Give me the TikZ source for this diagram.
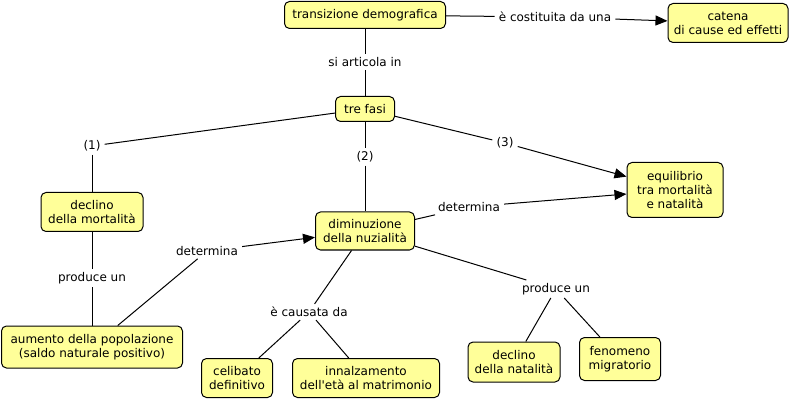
\documentclass[tikz,border=0pt]{standalone}
\usepackage{fontspec}
\setmainfont{DejaVu Sans}
\usetikzlibrary{arrows.meta}
\definecolor{cyel}{HTML}{FFFF99}
\begin{document}
\begin{tikzpicture}[x=1pt,y=-1pt,
  concept/.style={draw=black, line width=1pt, fill=cyel, rounded corners=5pt, align=center,
    inner sep=0pt, font=\fontsize{12}{14}\selectfont},
  lbl/.style={fill=white, inner xsep=4pt, inner ysep=3pt, font=\fontsize{12}{14}\selectfont},
  link/.style={line width=1pt},
  arr/.style={line width=1pt, -{Triangle[length=12pt,width=10pt]}}
]
\useasboundingbox[fill=white] (0,0) rectangle (796,401);

\node[concept, minimum width=161pt, minimum height=27pt] (td) at (365,15) {transizione demografica};
\node[concept, minimum width=120pt, minimum height=39pt] (cat) at (728,23) {catena\\di cause ed effetti};
\node[concept, minimum width=59pt, minimum height=25pt] (tf) at (365,109) {tre fasi};
\node[concept, minimum width=102pt, minimum height=39pt] (dm) at (92,212) {declino\\della mortalità};
\node[concept, minimum width=99pt, minimum height=38pt] (dn) at (365,231) {diminuzione\\della nuzialità};
\node[concept, minimum width=96pt, minimum height=55pt] (eq) at (675,190) {equilibrio\\tra mortalità\\e natalità};
\node[concept, minimum width=181pt, minimum height=42pt] (ap) at (92,347) {aumento della popolazione\\(saldo naturale positivo)};
\node[concept, minimum width=71pt, minimum height=39pt] (cd) at (237,378) {celibato\\definitivo};
\node[concept, minimum width=147pt, minimum height=39pt] (in) at (366,378) {innalzamento\\dell\textquotesingle età al matrimonio};
\node[concept, minimum width=92pt, minimum height=40pt] (dnat) at (514,362) {declino\\della natalità};
\node[concept, minimum width=81pt, minimum height=43pt] (fm) at (620,359) {fenomeno\\migratorio};

\node[lbl] (l1) at (555,17) {è costituita da una};
\node[lbl] (l2) at (365,62) {si articola in};
\node[lbl] (l3) at (92,146) {(1)};
\node[lbl] (l4) at (365,157) {(2)};
\node[lbl] (l5) at (505,143) {(3)};
\node[lbl] (l6) at (469,207) {determina};
\node[lbl] (l7) at (92,278) {produce un};
\node[lbl] (l8) at (207,251) {determina};
\node[lbl] (l9) at (309,312) {è causata da};
\node[lbl] (l10) at (556,289) {produce un};

\draw[link] (td) -- (l1);
\draw[arr] (l1) -- (cat);
\draw[link] (td) -- (l2);
\draw[link] (l2) -- (tf);
\draw[link] (tf) -- (l3);
\draw[link] (l3) -- (dm);
\draw[link] (tf) -- (l4);
\draw[link] (l4) -- (dn);
\draw[link] (tf) -- (l5);
\draw[arr] (l5) -- (eq);
\draw[link] (dn) -- (l6);
\draw[arr] (l6) -- (eq);
\draw[link] (dm) -- (l7);
\draw[link] (l7) -- (ap);
\draw[link] (ap) -- (l8);
\draw[arr] (l8) -- (dn);
\draw[link] (dn) -- (l9);
\draw[link] (l9) -- (cd);
\draw[link] (l9) -- (in);
\draw[link] (dn) -- (l10);
\draw[link] (l10) -- (dnat);
\draw[link] (l10) -- (fm);
\end{tikzpicture}
\end{document}
